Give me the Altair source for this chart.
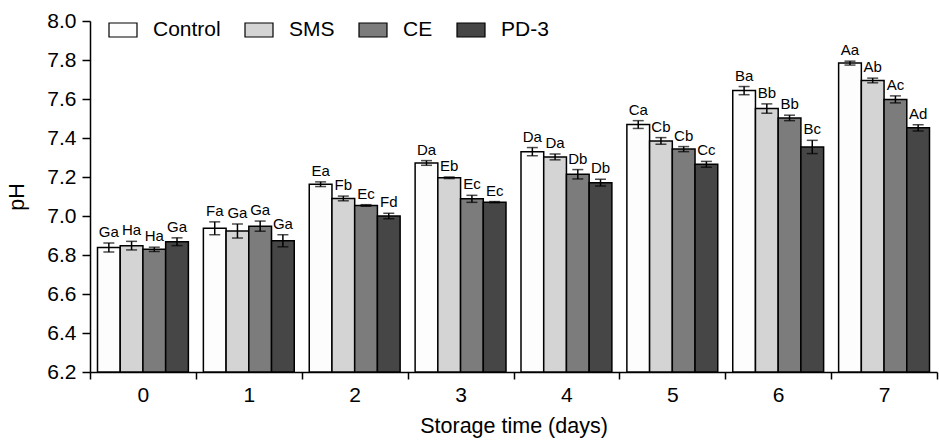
import altair as alt
import pandas as pd

days = ["0", "1", "2", "3", "4", "5", "6", "7"]
treatments = ["Control", "SMS", "CE", "PD-3"]
colors = ["#fdfdfd", "#d4d4d4", "#7c7c7c", "#464646"]

control = [6.838, 6.937, 7.163, 7.272, 7.330, 7.469, 7.643, 7.784]
sms = [6.848, 6.923, 7.090, 7.196, 7.303, 7.385, 7.551, 7.695]
ce = [6.829, 6.948, 7.054, 7.088, 7.214, 7.343, 7.503, 7.598]
pd3 = [6.868, 6.873, 7.000, 7.071, 7.171, 7.265, 7.354, 7.452]

control_err = [0.023, 0.033, 0.012, 0.012, 0.021, 0.020, 0.021, 0.010]
sms_err = [0.022, 0.036, 0.012, 0.004, 0.015, 0.017, 0.024, 0.012]
ce_err = [0.011, 0.026, 0.004, 0.018, 0.024, 0.013, 0.014, 0.018]
pd3_err = [0.020, 0.031, 0.014, 0.003, 0.017, 0.015, 0.034, 0.016]

control_lbl = ["Ga", "Fa", "Ea", "Da", "Da", "Ca", "Ba", "Aa"]
sms_lbl = ["Ha", "Ga", "Fb", "Eb", "Da", "Cb", "Bb", "Ab"]
ce_lbl = ["Ha", "Ga", "Ec", "Ec", "Db", "Cb", "Bb", "Ac"]
pd3_lbl = ["Ga", "Ga", "Fd", "Ec", "Db", "Cc", "Bc", "Ad"]

y_ticks = [6.2, 6.4, 6.6, 6.8, 7.0, 7.2, 7.4, 7.6, 7.8, 8.0]
Y_MIN, Y_MAX = 6.2, 8.0

series = {
    "Control": (control, control_err, control_lbl),
    "SMS": (sms, sms_err, sms_lbl),
    "CE": (ce, ce_err, ce_lbl),
    "PD-3": (pd3, pd3_err, pd3_lbl),
}
rows = []
for t in treatments:
    vals, errs, lbls = series[t]
    for d, v, e, l in zip(days, vals, errs, lbls):
        rows.append({"day": d, "treatment": t, "ph": v, "lo": v - e, "hi": v + e,
                     "lbl": l, "base": Y_MIN})
df = pd.DataFrame(rows)

FONT = "Liberation Sans"

x_axis = alt.Axis(title="Storage time (days)", labelAngle=0, tickBand="extent",
                  tickSize=7, labelPadding=5, labelFontSize=21,
                  titleFontSize=21.5, titlePadding=10, titleFontWeight="normal",
                  labelOverlap=False)
y_axis = alt.Axis(title="pH", values=y_ticks, format=".1f", tickSize=8,
                  labelPadding=6, labelFontSize=21, titleFontSize=21.5,
                  titlePadding=18, titleFontWeight="normal",
                  labelOverlap=False, labelBound=False)

x_scale = alt.Scale(paddingInner=0, paddingOuter=0)
y_scale = alt.Scale(domain=[Y_MIN, Y_MAX], zero=False, nice=False)
xo = alt.XOffset("treatment:N", sort=treatments,
                 scale=alt.Scale(paddingOuter=0.33, paddingInner=0))


def X():
    return alt.X("day:N", sort=days, scale=x_scale, axis=x_axis)


def Y(field):
    return alt.Y(field, scale=y_scale, axis=y_axis)


base = alt.Chart(df)

bars = base.mark_bar(stroke="black", strokeWidth=1.5).encode(
    x=X(),
    xOffset=xo,
    y=Y("ph:Q"),
    y2="base:Q",
    fill=alt.Fill("treatment:N", sort=treatments,
                  scale=alt.Scale(domain=treatments, range=colors),
                  legend=alt.Legend(title=None, orient="none", legendX=18, legendY=-6,
                                    direction="horizontal",
                                    symbolType="M-1,-0.5H1V0.5H-1Z", symbolSize=784,
                                    symbolStrokeColor="black", symbolStrokeWidth=1.2,
                                    labelFontSize=21, labelOffset=15, columnPadding=21,
                                    labelFont=FONT)),
)

rules = base.mark_rule(color="black", strokeWidth=1.5).encode(
    x=X(), xOffset=xo, y=Y("lo:Q"), y2="hi:Q",
)
caps_hi = base.mark_tick(color="black", thickness=1.5, size=11, orient="horizontal").encode(
    x=X(), xOffset=xo, y=Y("hi:Q"),
)
caps_lo = base.mark_tick(color="black", thickness=1.5, size=11, orient="horizontal").encode(
    x=X(), xOffset=xo, y=Y("lo:Q"),
)
labels = base.mark_text(fontSize=15, dy=-6, baseline="alphabetic", font=FONT,
                        color="black").encode(
    x=X(), xOffset=xo, y=Y("hi:Q"),
    text="lbl:N",
)

chart = alt.layer(bars, rules, caps_hi, caps_lo, labels).properties(
    width=847, height=351,
    autosize=alt.AutoSizeParams(type="none"),
    padding={"left": 90, "top": 21, "right": 2, "bottom": 69},
).configure_view(stroke=None).configure_axis(
    domainColor="black", domainWidth=1.5, tickColor="black", tickWidth=1.5,
    labelColor="black", titleColor="black", grid=False, labelFont=FONT, titleFont=FONT,
    labelFontSize=21, titleFontSize=21.5, labelOverlap=False,
)

chart.save("out.html", embed_options={"renderer": "svg", "actions": False})
